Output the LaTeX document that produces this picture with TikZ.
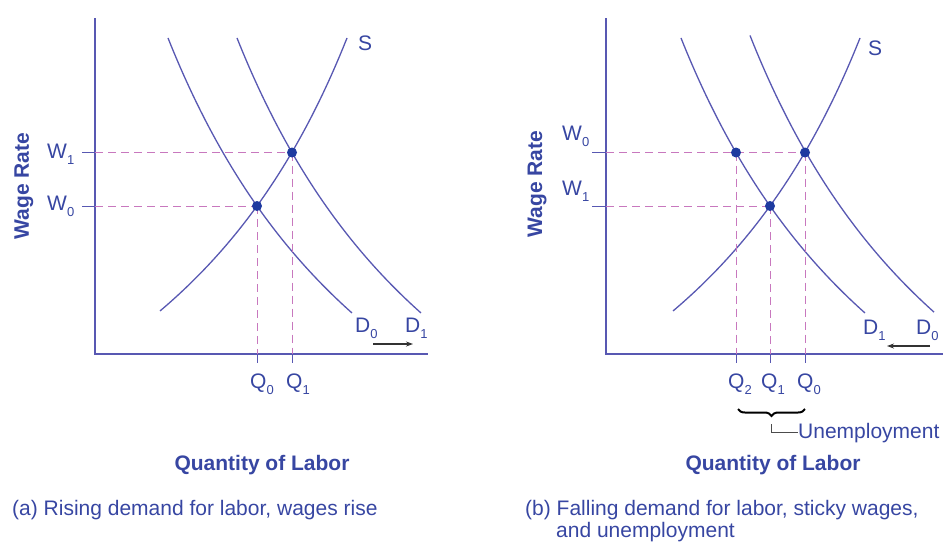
\documentclass[tikz,border=0pt]{standalone}
\usepackage{fontspec}
\setmainfont{Liberation Sans}
\usetikzlibrary{arrows.meta,decorations.pathreplacing}
\definecolor{curvec}{RGB}{88,88,178}
\definecolor{txtc}{RGB}{55,70,162}
\definecolor{dashc}{RGB}{200,120,190}
\definecolor{dotc}{RGB}{30,58,160}
\newcommand{\mysub}[1]{\raisebox{-0.3em}{\fontsize{13}{13}\selectfont #1}}
\begin{document}
\begin{tikzpicture}[x=1pt,y=-1pt,
  curve/.style={draw=curvec, line width=1.3pt},
  axis/.style={draw=curvec, line width=1.4pt},
  guide/.style={draw=dashc, line width=0.9pt, dash pattern=on 8pt off 5pt},
  tickmark/.style={draw=curvec, line width=0.9pt},
  lbl/.style={text=txtc, inner sep=0pt, font=\fontsize{21}{24}\selectfont},
  blbl/.style={text=txtc, inner sep=0pt, font=\bfseries\fontsize{21}{24}\selectfont},
  eqdot/.style={circle, fill=dotc, inner sep=0pt, minimum size=10pt},
  shiftarrow/.style={draw=black!80, line width=1.1pt, -{Stealth[length=7pt,width=5pt]}}
]
\useasboundingbox (0,0) rectangle (943,542);

% ================= panel (a) =================
\coordinate (aO) at (95,354);
\coordinate (aYt) at (95,18);
\coordinate (aXe) at (428,354);
\draw[axis] (aYt) -- (aO) -- (aXe);

% demand D0, D1 and supply S
\draw[curve] plot[domain=168:352, samples=70, smooth] (\x, {719.8 - 1855.9/((\x+104.2)/100)});
\draw[curve] plot[domain=237:421, samples=70, smooth] (\x, {719.8 - 1855.9/((\x+35.2)/100)});
\draw[curve] plot[domain=160:347, samples=70, smooth] (\x, {687.9 - 1678.06/((605.2-\x)/100)});

\coordinate (aE0) at (257,206);
\coordinate (aE1) at (292,152.5);
\coordinate (aW0t) at (82,206);
\coordinate (aW1t) at (82,152.5);
\coordinate (aW0a) at (95,206);
\coordinate (aW1a) at (95,152.5);
\coordinate (aQ0a) at (257,354);
\coordinate (aQ1a) at (292,354);
\coordinate (aQ0t) at (257,363);
\coordinate (aQ1t) at (292,363);

\draw[guide] (aW1a) -- (aE1);
\draw[guide] (aW0a) -- (aE0);
\draw[guide] (aE0) -- (aQ0a);
\draw[guide] (aE1) -- (aQ1a);
\draw[tickmark] (aW1t) -- (aW1a);
\draw[tickmark] (aW0t) -- (aW0a);
\draw[tickmark] (aQ0a) -- (aQ0t);
\draw[tickmark] (aQ1a) -- (aQ1t);

\node[eqdot] (aP0) at (aE0) {};
\node[eqdot] (aP1) at (aE1) {};

\node[lbl, anchor=base west] (aW1) at (47,158) {W\mysub{1}};
\node[lbl, anchor=base west] (aW0) at (47,210) {W\mysub{0}};
\node[lbl, anchor=base west] (aQ0) at (250,388) {Q\mysub{0}};
\node[lbl, anchor=base west] (aQ1) at (286,388) {Q\mysub{1}};
\node[lbl, anchor=base west] (aS) at (358,50) {S};
\node[lbl, anchor=base west] (aD0) at (355,332) {D\mysub{0}};
\node[lbl, anchor=base west] (aD1) at (405,332) {D\mysub{1}};
\coordinate (aA1) at (373,344);
\coordinate (aA2) at (413,344);
\draw[shiftarrow] (aA1) -- (aA2);

\node[blbl, rotate=90] (aWR) at (24,186) {Wage Rate};
\node[blbl, anchor=base] (aQL) at (262,470) {Quantity of Labor};
\node[lbl, anchor=base west] (aCap) at (12,515) {(a) Rising demand for labor, wages rise};

% ================= panel (b) =================
\coordinate (bO) at (606,354);
\coordinate (bYt) at (606,18);
\coordinate (bXe) at (943,354);
\draw[axis] (bYt) -- (bO) -- (bXe);

\draw[curve] plot[domain=681:865, samples=70, smooth] (\x, {719.8 - 1855.9/((\x-408.8)/100)});
\draw[curve] plot[domain=750:934, samples=70, smooth] (\x, {719.8 - 1855.9/((\x-478.8)/100)});
\draw[curve] plot[domain=673:860, samples=70, smooth] (\x, {687.9 - 1678.06/((1118.2-\x)/100)});

\coordinate (bE2) at (736,152.5);
\coordinate (bE1) at (770,206);
\coordinate (bE0) at (805,152.5);
\coordinate (bW0t) at (592,152.5);
\coordinate (bW1t) at (592,206);
\coordinate (bW0a) at (606,152.5);
\coordinate (bW1a) at (606,206);
\coordinate (bQ2a) at (736,354);
\coordinate (bQ1a) at (770,354);
\coordinate (bQ0a) at (805,354);
\coordinate (bQ2t) at (736,363);
\coordinate (bQ1t) at (770,363);
\coordinate (bQ0t) at (805,363);

\draw[guide] (bW0a) -- (bE0);
\draw[guide] (bW1a) -- (bE1);
\draw[guide] (bE2) -- (bQ2a);
\draw[guide] (bE1) -- (bQ1a);
\draw[guide] (bE0) -- (bQ0a);
\draw[tickmark] (bW0t) -- (bW0a);
\draw[tickmark] (bW1t) -- (bW1a);
\draw[tickmark] (bQ2a) -- (bQ2t);
\draw[tickmark] (bQ1a) -- (bQ1t);
\draw[tickmark] (bQ0a) -- (bQ0t);

\node[eqdot] (bP2) at (bE2) {};
\node[eqdot] (bP1) at (bE1) {};
\node[eqdot] (bP0) at (bE0) {};

\node[lbl, anchor=base west] (bW0) at (562,140) {W\mysub{0}};
\node[lbl, anchor=base west] (bW1) at (562,195) {W\mysub{1}};
\node[lbl, anchor=base west] (bQ2) at (728,388) {Q\mysub{2}};
\node[lbl, anchor=base west] (bQ1) at (761,388) {Q\mysub{1}};
\node[lbl, anchor=base west] (bQ0) at (797,388) {Q\mysub{0}};
\node[lbl, anchor=base west] (bS) at (868,55) {S};
\node[lbl, anchor=base west] (bD1) at (863,334) {D\mysub{1}};
\node[lbl, anchor=base west] (bD0) at (916,334) {D\mysub{0}};
\coordinate (bA1) at (930,346);
\coordinate (bA2) at (887,346);
\draw[shiftarrow] (bA1) -- (bA2);

% brace for unemployment
\coordinate (brL) at (738,409);
\coordinate (brR) at (805,409);
\draw[black, line width=2pt, decorate, decoration={brace, amplitude=7pt, mirror}] (brL) -- (brR);
\coordinate (brTip) at (771.5,424);
\node[lbl, anchor=base west] (bUn) at (798,438) {Unemployment};
\draw[black!70, line width=1pt] (brTip) |- (bUn.west);

\node[blbl, rotate=90] (bWR) at (537,184) {Wage Rate};
\node[blbl, anchor=base] (bQL) at (773,470) {Quantity of Labor};
\node[lbl, anchor=base west] (bCap1) at (525,515) {(b) Falling demand for labor, sticky wages,};
\node[lbl, anchor=base west] (bCap2) at (556,537) {and unemployment};
\end{tikzpicture}
\end{document}
